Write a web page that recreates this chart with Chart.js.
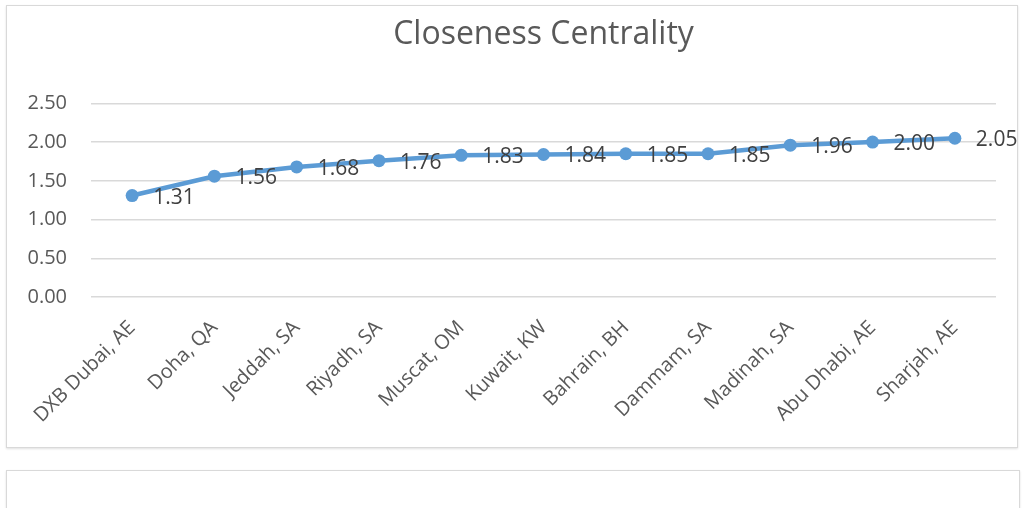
<!DOCTYPE html>
<html>
<head>
<meta charset="utf-8">
<script src="https://cdn.jsdelivr.net/npm/chart.js@4.4.1/dist/chart.umd.min.js"></script>
<style>
  body { margin: 0; background: #fff; }
  .frame {
    position: absolute;
    border: 1px solid #d9d9d9;
    box-shadow: 0 1px 2px rgba(0,0,0,0.12);
    background: #fff;
    box-sizing: border-box;
  }
  #box1 { left: 6px; top: 5px; width: 1012px; height: 443px; }
  #box2 { left: 6px; top: 470px; width: 1014px; height: 60px; }
  .parentdiv { position: absolute; left: 0; top: 0; width: 1027px; height: 452px; }
</style>
</head>
<body>
<div class="frame" id="box1"></div>
<div class="frame" id="box2"></div>
<div class="parentdiv"><canvas id="lineChart"></canvas></div>

<script>
const labels = [
  "DXB Dubai, AE",
  "Doha, QA",
  "Jeddah, SA",
  "Riyadh, SA",
  "Muscat, OM",
  "Kuwait, KW",
  "Bahrain, BH",
  "Dammam, SA",
  "Madinah, SA",
  "Abu Dhabi, AE",
  "Sharjah, AE",
];
const closeness = [1.31, 1.56, 1.68, 1.76, 1.83, 1.84, 1.85, 1.85, 1.96, 2.0, 2.05];
const yTicks = [0, 0.5, 1, 1.5, 2, 2.5];

const FONT = "'Open Sans', 'DejaVu Sans', sans-serif";

// draws the value next to each point, like excel data labels
const valueLabels = {
  id: "valueLabels",
  afterDatasetsDraw(chart) {
    const ctx = chart.ctx;
    const meta = chart.getDatasetMeta(0);
    ctx.save();
    ctx.font = "21px " + FONT;
    ctx.fillStyle = "#404040";
    ctx.textAlign = "left";
    ctx.textBaseline = "middle";
    meta.data.forEach((pt, i) => {
      ctx.fillText(closeness[i].toFixed(2), pt.x + 21, pt.y + 2);
    });
    ctx.restore();
  },
};

function lineChart() {
  const data = {
    labels: labels,
    datasets: [
      {
        label: "Closeness Centrality",
        data: closeness,
        fill: false,
        borderColor: "#5B9BD5",
        backgroundColor: "#5B9BD5",
        borderWidth: 4.5,
        pointRadius: 6.5,
        pointBorderWidth: 0,
        tension: 0,
      },
    ],
  };

  const config = {
    type: "line",
    data: data,
    plugins: [valueLabels],
    options: {
      responsive: false,
      animation: false,
      layout: { padding: { left: 0, right: 31, top: 0, bottom: 0 } },
      plugins: {
        legend: { display: false },
        tooltip: { enabled: false },
        title: {
          display: true,
          // centred over the plot area, not the whole canvas
          fullSize: false,
          text: "Closeness Centrality",
          color: "#595959",
          font: { family: FONT, size: 32, weight: "normal" },
          padding: { top: 16, bottom: 49 },
        },
      },
      scales: {
        x: {
          offset: true,
          grid: { display: false, drawTicks: false },
          border: { display: false },
          ticks: {
            color: "#595959",
            font: { family: FONT, size: 20 },
            minRotation: 45,
            maxRotation: 45,
            padding: 19,
            autoSkip: false,
          },
          afterFit: (scale) => { scale.height = 155; },
        },
        y: {
          min: 0,
          max: 2.5,
          grid: { color: "#d9d9d9", lineWidth: 1.5, drawTicks: false },
          border: { display: false },
          afterBuildTicks: (scale) => { scale.ticks = yTicks.map((v) => ({ value: v })); },
          ticks: {
            color: "#595959",
            font: { family: FONT, size: 20 },
            padding: 24,
            callback: (v) => Number(v).toFixed(2),
          },
          afterFit: (scale) => { scale.width = 91; },
        },
      },
    },
  };

  const canvas = document.getElementById("lineChart");
  canvas.width = 1027;
  canvas.height = 452;
  const myChart = new Chart(canvas, config);
}

window.onload = lineChart;
</script>
</body>
</html>
